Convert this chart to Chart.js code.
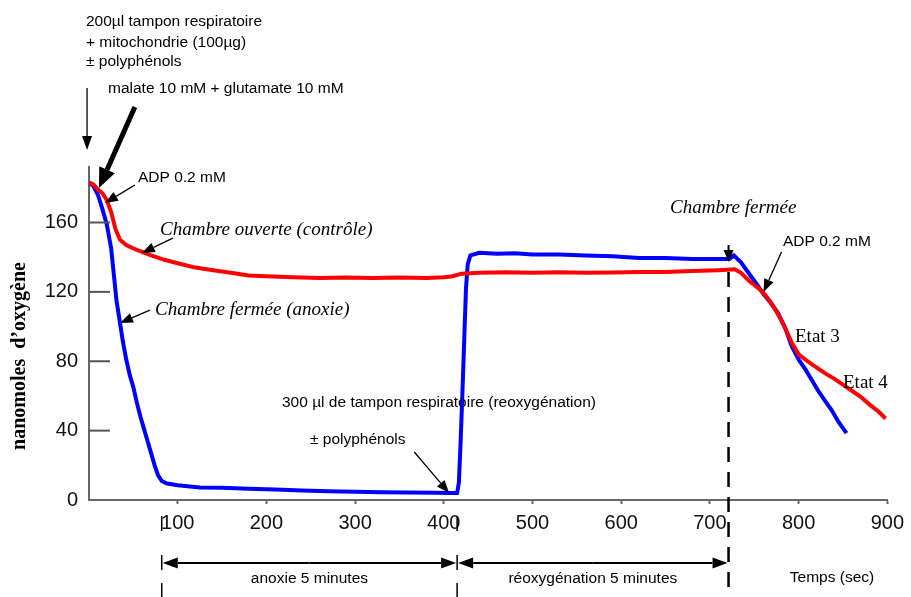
<!DOCTYPE html>
<html>
<head>
<meta charset="utf-8">
<script src="https://cdn.jsdelivr.net/npm/chart.js@4.4.0/dist/chart.umd.min.js"></script>
<style>
  html, body { margin: 0; padding: 0; background: #fff; }
</style>
</head>
<body>
<canvas id="o2Chart" width="911" height="597"></canvas>
<script>
// tick labels
var xTicks = [100, 200, 300, 400, 500, 600, 700, 800, 900];
var yTicks = [0, 40, 80, 120, 160];

// Chambre ouverte (contrôle) - red trace
var controlTime = [0, 5, 10, 15, 20, 25, 30, 35, 42, 50, 60, 70, 85, 100, 120, 140, 160, 180, 200, 230,
  260, 290, 320, 350, 380, 400, 410, 420, 440, 470, 500, 530, 560, 590, 620, 650, 680, 710, 728, 735,
  745, 755, 762, 770, 778, 785, 792, 800, 810, 820, 830, 840, 850, 860, 870, 880, 890, 898];
var controlO2 = [183, 182, 179, 177, 173, 166, 156, 150, 147, 145, 143, 141, 138.5, 136.5, 134, 132.5, 131, 129.5, 129, 128.5,
  128, 128.3, 128, 128.3, 128, 128.5, 129, 130.5, 131, 131.3, 131, 131.3, 131, 131.2, 131.4, 131.5, 132, 132.5, 133, 131,
  126, 122, 118.5, 113, 106, 99, 91, 84, 80, 76.5, 73, 70, 66.5, 63, 59.5, 55, 51, 47];

// Chambre fermée (anoxie) - blue trace
var anoxiaTime = [0, 5, 10, 15, 20, 25, 28, 31, 35, 38, 42, 46, 50, 54, 58, 62, 66, 70, 74, 78,
  82, 88, 100, 125, 150, 180, 210, 240, 270, 300, 330, 360, 390, 405, 415, 417, 419, 421, 423, 425,
  427, 430, 440, 460, 480, 500, 530, 560, 590, 620, 650, 680, 710, 722, 727, 735, 744, 752, 760, 768,
  777, 785, 792, 800, 808, 815, 822, 830, 837, 845, 854];
var anoxiaO2 = [183, 181, 176, 168, 159, 145, 130, 115, 102, 92, 81, 72, 65, 56, 48, 41, 34, 27, 20, 14,
  11, 9.5, 8.5, 7.2, 7, 6.5, 6, 5.5, 5, 4.8, 4.5, 4.3, 4.2, 4, 4, 10, 34, 62, 92, 122,
  136, 141, 142.5, 142, 142.3, 141.5, 141.5, 141, 140.5, 139.5, 139.5, 139, 139, 139, 141, 137, 130.6, 125, 119, 114,
  107.6, 99, 89, 81, 75, 69, 63, 57, 52, 45, 38.6];

// protocol time marks (sec): start anoxie, reoxygenation, chamber closed
var phaseMarks = [82, 415, 721];

var SANS = '"Liberation Sans", Arial, sans-serif';
var SERIF = '"Liberation Serif", "Times New Roman", serif';

function toPoints(xs, ys) {
  return xs.map(function(x, i) { return { x: x, y: ys[i] }; });
}

function arrow(ctx, x1, y1, x2, y2, lw, hl, hw) {
  var a = Math.atan2(y2 - y1, x2 - x1);
  var bx = x2 - hl * Math.cos(a), by = y2 - hl * Math.sin(a);
  ctx.save();
  ctx.strokeStyle = '#000';
  ctx.fillStyle = '#000';
  ctx.lineWidth = lw;
  ctx.beginPath();
  ctx.moveTo(x1, y1);
  ctx.lineTo(bx, by);
  ctx.stroke();
  ctx.beginPath();
  ctx.moveTo(x2, y2);
  ctx.lineTo(bx + hw / 2 * Math.sin(a), by - hw / 2 * Math.cos(a));
  ctx.lineTo(bx - hw / 2 * Math.sin(a), by + hw / 2 * Math.cos(a));
  ctx.closePath();
  ctx.fill();
  ctx.restore();
}

function text(ctx, str, x, y, font, align) {
  ctx.font = font;
  ctx.textAlign = align || 'left';
  ctx.textBaseline = 'middle';
  ctx.fillStyle = '#000';
  ctx.fillText(str, x, y);
}

var annotations = {
  id: 'annotations',
  afterDraw: function(chart) {
    var ctx = chart.ctx;
    var xs = chart.scales.x, ys = chart.scales.y;
    function X(t) { return xs.getPixelForValue(t); }
    function Y(v) { return ys.getPixelForValue(v); }

    ctx.save();

    // inward y ticks
    ctx.strokeStyle = '#555';
    ctx.lineWidth = 2;
    yTicks.forEach(function(v) {
      if (v === 0) return;
      ctx.beginPath();
      ctx.moveTo(X(0), Y(v));
      ctx.lineTo(X(0) + 21, Y(v));
      ctx.stroke();
    });

    // y title
    ctx.save();
    ctx.translate(20, 356);
    ctx.rotate(-Math.PI / 2);
    text(ctx, 'nanomoles  d\u2019oxyg\u00e8ne', 0, 0, 'bold 20px ' + SERIF, 'center');
    ctx.restore();

    var small = '15.5px ' + SANS;
    var ital = 'italic 19px ' + SERIF;

    // top protocol text
    text(ctx, '200\u00b5l tampon respiratoire', 86, 22, small);
    text(ctx, '+ mitochondrie (100\u00b5g)', 86, 43, small);
    text(ctx, '\u00b1 polyph\u00e9nols', 86, 62, small);
    text(ctx, 'malate 10 mM + glutamate 10 mM', 108, 89, small);
    arrow(ctx, X(-2.2), Y(237.5), X(-2.2), Y(201.8), 1.3, 14, 10);
    arrow(ctx, X(51.7), Y(226.6), X(11.2), Y(179.9), 5, 20, 17);

    text(ctx, 'ADP 0.2 mM', 138, 178, small);
    arrow(ctx, X(51.7), Y(181.6), X(18), Y(171.2), 1.3, 13, 10);

    text(ctx, 'Chambre ouverte (contr\u00f4le)', 160, 230, ital);
    arrow(ctx, X(94.5), Y(151), X(59.6), Y(142.4), 1.3, 13, 10);

    text(ctx, 'Chambre ferm\u00e9e (anoxie)', 155, 310, ital);
    arrow(ctx, X(68.6), Y(109.5), X(34.9), Y(102), 1.3, 13, 10);

    text(ctx, '300 \u00b5l de tampon respiratoire (reoxyg\u00e9nation)', 282, 403, small);
    text(ctx, '\u00b1 polyph\u00e9nols', 310, 440, small);
    arrow(ctx, X(366.7), Y(27.7), X(406), Y(4), 1.3, 13, 10);

    text(ctx, 'Chambre ferm\u00e9e', 670, 208, ital);
    var xc = X(phaseMarks[2]);
    arrow(ctx, xc, 245, xc, 262, 2, 12, 10);
    ctx.save();
    ctx.strokeStyle = '#000';
    ctx.lineWidth = 2.5;
    ctx.setLineDash([15, 10]);
    ctx.beginPath();
    ctx.moveTo(xc, 272);
    ctx.lineTo(xc, 597);
    ctx.stroke();
    ctx.restore();

    text(ctx, 'ADP 0.2 mM', 783, 242, small);
    arrow(ctx, X(780.7), Y(143), X(760.4), Y(119.9), 1.3, 13, 10);

    text(ctx, 'Etat 3', 795, 337, '19px ' + SERIF);
    text(ctx, 'Etat 4', 843, 383, '19px ' + SERIF);

    // phase markers and span arrows below the axis
    ctx.strokeStyle = '#000';
    ctx.lineWidth = 1.5;
    [phaseMarks[0], phaseMarks[1]].forEach(function(t) {
      [[516, 531], [555, 570], [583, 597]].forEach(function(s) {
        ctx.beginPath();
        ctx.moveTo(X(t), s[0]);
        ctx.lineTo(X(t), s[1]);
        ctx.stroke();
      });
    });
    var ya = 563;
    for (var i = 0; i < 2; i++) {
      var a = X(phaseMarks[i]) + 1, b = X(phaseMarks[i + 1]) - 1;
      var m = (a + b) / 2;
      arrow(ctx, m, ya, a, ya, 2, 15, 11);
      arrow(ctx, m, ya, b, ya, 2, 15, 11);
    }
    text(ctx, 'anoxie 5 minutes', (X(phaseMarks[0]) + X(phaseMarks[1])) / 2, 579, small, 'center');
    text(ctx, 'r\u00e9oxyg\u00e9nation 5 minutes', (X(phaseMarks[1]) + X(phaseMarks[2])) / 2, 579, small, 'center');
    text(ctx, 'Temps (sec)', 832, 578, small, 'center');

    ctx.restore();
  }
};

var ctx = document.getElementById('o2Chart').getContext('2d');
var o2Chart = new Chart(ctx, {
  type: 'line',
  data: {
    datasets: [{
      label: 'Chambre ouverte (contrôle)',
      data: toPoints(controlTime, controlO2),
      borderColor: '#ff0000',
      borderWidth: 4,
      pointRadius: 0,
      tension: 0,
      fill: false,
      order: 0
    }, {
      label: 'Chambre fermée (anoxie)',
      data: toPoints(anoxiaTime, anoxiaO2),
      borderColor: '#0000ff',
      borderWidth: 4,
      pointRadius: 0,
      tension: 0,
      fill: false,
      order: 1
    }]
  },
  options: {
    responsive: false,
    animation: false,
    layout: { padding: { top: 167, right: 22, left: 0, bottom: 0 } },
    plugins: {
      legend: { display: false },
      tooltip: { enabled: false }
    },
    scales: {
      x: {
        type: 'linear',
        min: 0,
        max: 900,
        afterBuildTicks: function(scale) {
          scale.ticks = xTicks.map(function(v) { return { value: v }; });
        },
        afterFit: function(scale) { scale.height = 97; },
        grid: { display: true, drawOnChartArea: false, drawTicks: true, tickLength: 4, tickWidth: 2, tickColor: '#666' },
        border: { display: true, color: '#666', width: 2 },
        ticks: { color: '#111', padding: 7, font: { family: SANS, size: 20 }, maxRotation: 0 }
      },
      y: {
        min: 0,
        max: 192,
        afterBuildTicks: function(scale) {
          scale.ticks = yTicks.map(function(v) { return { value: v }; });
        },
        afterFit: function(scale) { scale.width = 89; },
        grid: { display: false, drawTicks: false },
        border: { display: true, color: '#666', width: 2 },
        ticks: { color: '#111', padding: 11, font: { family: SANS, size: 20 } }
      }
    }
  },
  plugins: [annotations]
});
</script>
</body>
</html>
